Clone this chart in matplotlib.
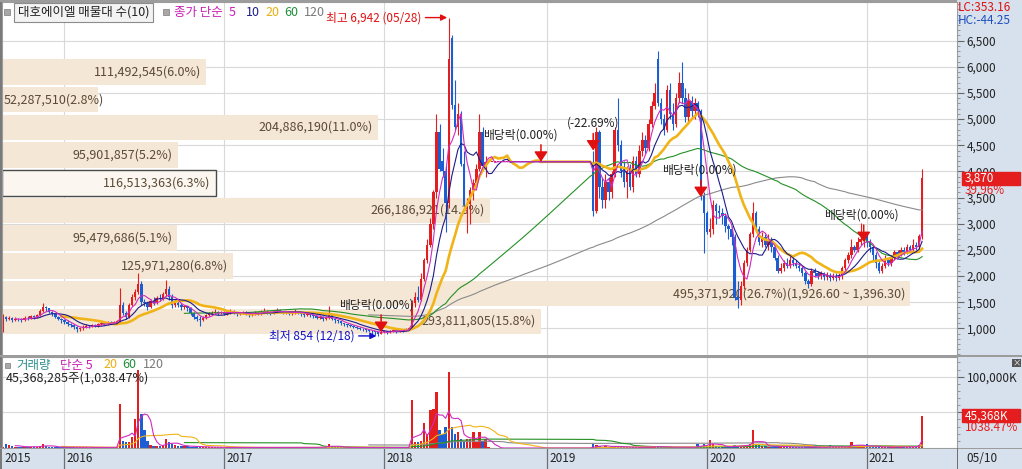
import numpy as np
import pandas as pd
import matplotlib
matplotlib.use('Agg')
import matplotlib.pyplot as plt
from matplotlib.patches import Rectangle
from matplotlib.ticker import MultipleLocator, FuncFormatter
from matplotlib.transforms import blended_transform_factory

plt.rcParams['font.family'] = ['Noto Sans CJK KR', 'DejaVu Sans']

# 대호에이엘 주봉 (마지막 주 2021-05-10)
last_date = '2021-05-10'

opens = [
    980, 1210, 1180, 1200, 1150, 1180, 1170, 1160, 1200, 1190,
    1230, 1210, 1250, 1330, 1400, 1380, 1320, 1270, 1220, 1180,
    1150, 1120, 1080, 1060, 1020, 980, 1000, 1030, 1050, 1040,
    1060, 1050, 1080, 1100, 1090, 1110, 1100, 1120, 1120, 1450,
    1300, 1220, 1450, 1600, 1700, 1850, 1500, 1480, 1400, 1520,
    1480, 1580, 1560, 1660, 1760, 1600, 1450, 1480, 1450, 1400,
    1420, 1380, 1300, 1220, 1180, 1150, 1200, 1250, 1280, 1300,
    1320, 1290, 1310, 1280, 1300, 1330, 1300, 1270, 1290, 1310,
    1280, 1250, 1270, 1300, 1280, 1320, 1340, 1310, 1290, 1320,
    1350, 1330, 1300, 1310, 1280, 1300, 1330, 1310, 1280, 1250,
    1270, 1250, 1230, 1200, 1220, 1180, 1200, 1250, 1180, 1150,
    1130, 1100, 1080, 1060, 1050, 1030, 1010, 990, 980, 960,
    950, 940, 920, 900, 930, 940, 920, 950, 960, 940,
    970, 950, 980, 1000, 1480, 1600, 1550, 1950, 2300, 2600,
    3000, 3600, 4750, 4200, 4000, 3400, 6550, 5270, 4850, 5100,
    4150, 3300, 3380, 3650, 3780, 4050, 4750, 4100, 4185, 4185,
    4185, 4185, 4185, 4185, 4185, 4185, 4185, 4185, 4185, 4185,
    4185, 4185, 4185, 4185, 4185, 4185, 4185, 4185, 4185, 4185,
    4185, 4185, 4185, 4185, 4185, 4185, 4185, 4185, 4185, 4185,
    4185, 4185, 4185, 3250, 4750, 3700, 3450, 3800, 3600, 3950,
    4800, 4500, 4000, 3800, 4000, 3700, 4200, 3950, 4400, 4600,
    4450, 4900, 5250, 6150, 5300, 5000, 4800, 5550, 5100, 4900,
    5400, 5700, 5400, 5050, 5350, 5150, 5300, 5150, 3550, 3200,
    2850, 2900, 3350, 3250, 3200, 3150, 2950, 2900, 2750, 1600,
    1550, 1800, 2250, 2500, 2800, 3200, 2900, 2650, 2750, 2600,
    2700, 2550, 2350, 2100, 2150, 2250, 2200, 2300, 2250, 2200,
    2150, 2050, 1900, 1850, 2100, 2050, 2000, 2050, 1980, 2000,
    1960, 2000, 1960, 2000, 2150, 2300, 2400, 2550, 2500, 2650,
    2700, 2750, 2650, 2550, 2400, 2250, 2100, 2200, 2300, 2250,
    2350, 2450, 2400, 2500, 2450, 2550, 2500, 2600, 2550, 2765,
]
highs = [
    1280, 1240, 1230, 1220, 1210, 1200, 1190, 1230, 1230, 1260,
    1260, 1280, 1360, 1480, 1420, 1390, 1330, 1280, 1240, 1200,
    1170, 1150, 1100, 1080, 1040, 1030, 1060, 1080, 1070, 1080,
    1080, 1100, 1130, 1120, 1130, 1130, 1140, 1150, 1770, 1500,
    1330, 1480, 1650, 1750, 2050, 1900, 1560, 1500, 1560, 1600,
    1620, 1650, 1700, 1920, 1800, 1650, 1550, 1520, 1480, 1450,
    1430, 1400, 1320, 1250, 1230, 1230, 1280, 1310, 1330, 1360,
    1340, 1340, 1330, 1330, 1360, 1350, 1310, 1320, 1340, 1330,
    1300, 1300, 1330, 1320, 1350, 1380, 1350, 1330, 1350, 1380,
    1370, 1340, 1340, 1320, 1320, 1360, 1340, 1320, 1290, 1300,
    1290, 1270, 1240, 1250, 1230, 1230, 1430, 1260, 1200, 1170,
    1140, 1110, 1090, 1080, 1060, 1050, 1030, 1010, 990, 980,
    970, 950, 930, 960, 960, 950, 970, 990, 970, 990,
    980, 1000, 1020, 1550, 1700, 1800, 2050, 2350, 2700, 3100,
    3650, 5100, 4900, 4450, 4100, 6942, 6600, 5750, 5300, 5150,
    4400, 3500, 3700, 3850, 4150, 5100, 4850, 4300, 4185, 4185,
    4185, 4185, 4185, 4185, 4185, 4185, 4185, 4185, 4185, 4185,
    4185, 4185, 4185, 4185, 4185, 4185, 4185, 4185, 4185, 4185,
    4185, 4185, 4185, 4185, 4185, 4185, 4185, 4185, 4185, 4185,
    4185, 4185, 4400, 4850, 4800, 3900, 3950, 3900, 4000, 4850,
    5400, 4600, 4200, 4100, 4150, 4300, 4300, 4500, 4750, 4700,
    5000, 5350, 5700, 6300, 5400, 5100, 5650, 5700, 5300, 5500,
    5900, 6100, 5600, 5500, 5450, 5400, 5350, 5200, 3600, 3250,
    3100, 3450, 3400, 3350, 3300, 3200, 3000, 2950, 2800, 1900,
    1900, 2300, 2550, 2850, 3410, 3250, 2950, 2850, 2800, 2800,
    2750, 2600, 2400, 2250, 2300, 2350, 2380, 2400, 2300, 2250,
    2200, 2100, 1950, 2150, 2150, 2100, 2100, 2080, 2080, 2050,
    2050, 2050, 2050, 2200, 2350, 2450, 2700, 2600, 2750, 3010,
    2850, 2800, 2700, 2600, 2450, 2300, 2250, 2400, 2350, 2400,
    2500, 2500, 2550, 2550, 2620, 2600, 2700, 2650, 2800, 4050,
]
lows = [
    920, 1130, 1150, 1120, 1130, 1130, 1120, 1140, 1150, 1170,
    1180, 1190, 1240, 1320, 1330, 1290, 1240, 1190, 1150, 1100,
    1080, 1040, 1020, 980, 920, 950, 970, 1010, 1010, 1020,
    1020, 1030, 1060, 1060, 1070, 1080, 1080, 1100, 1100, 1250,
    1180, 1200, 1430, 1550, 1650, 1450, 1420, 1350, 1380, 1450,
    1460, 1520, 1540, 1620, 1550, 1380, 1400, 1400, 1350, 1370,
    1330, 1260, 1180, 1140, 1050, 1130, 1180, 1230, 1250, 1280,
    1260, 1270, 1250, 1260, 1280, 1270, 1240, 1250, 1270, 1250,
    1210, 1230, 1250, 1250, 1260, 1300, 1280, 1260, 1270, 1300,
    1290, 1270, 1270, 1250, 1260, 1280, 1280, 1240, 1210, 1230,
    1210, 1190, 1170, 1180, 1140, 1150, 1180, 1150, 1110, 1100,
    1070, 1050, 1030, 1020, 1000, 980, 960, 950, 930, 920,
    900, 880, 854, 890, 910, 900, 910, 930, 910, 930,
    920, 940, 960, 980, 1400, 1500, 1530, 1900, 2250, 2550,
    2900, 3500, 4000, 3900, 2850, 3300, 5200, 4800, 4700, 4100,
    3300, 2820, 3000, 3450, 3700, 4000, 4050, 3900, 4185, 4185,
    4185, 4185, 4185, 4185, 4185, 4185, 4185, 4185, 4185, 4185,
    4185, 4185, 4185, 4185, 4185, 4185, 4185, 4185, 4185, 4185,
    4185, 4185, 4185, 4185, 4185, 4185, 4185, 4185, 4185, 4185,
    4185, 4185, 3150, 3200, 3500, 3300, 3300, 3450, 3500, 3900,
    4400, 3900, 3700, 3500, 3650, 3600, 3900, 3900, 4300, 4350,
    4400, 4850, 5200, 5250, 4900, 4700, 4750, 5000, 4800, 4850,
    5300, 5300, 4950, 4900, 5050, 5000, 5050, 3450, 2440, 2800,
    2750, 2800, 3000, 3100, 3000, 2850, 2700, 2600, 1550, 1380,
    1450, 1750, 2200, 2450, 2750, 2850, 2600, 2550, 2550, 2500,
    2450, 2300, 2050, 2050, 2100, 2150, 2150, 2200, 2150, 2100,
    2000, 1850, 1780, 1800, 1980, 1950, 1950, 1930, 1920, 1900,
    1920, 1900, 1920, 1950, 2120, 2250, 2350, 2450, 2450, 2600,
    2550, 2550, 2450, 2300, 2150, 2050, 2050, 2150, 2200, 2200,
    2300, 2350, 2380, 2400, 2420, 2450, 2450, 2500, 2500, 2700,
]
closes = [
    1210, 1180, 1200, 1150, 1180, 1170, 1160, 1200, 1190, 1230,
    1210, 1250, 1330, 1400, 1380, 1320, 1270, 1220, 1180, 1150,
    1120, 1080, 1060, 1020, 980, 1000, 1030, 1050, 1040, 1060,
    1050, 1080, 1100, 1090, 1110, 1100, 1120, 1120, 1450, 1300,
    1220, 1450, 1600, 1700, 1850, 1500, 1480, 1400, 1520, 1480,
    1580, 1560, 1660, 1760, 1600, 1450, 1480, 1450, 1400, 1420,
    1380, 1300, 1220, 1180, 1150, 1200, 1250, 1280, 1300, 1320,
    1290, 1310, 1280, 1300, 1330, 1300, 1270, 1290, 1310, 1280,
    1250, 1270, 1300, 1280, 1320, 1340, 1310, 1290, 1320, 1350,
    1330, 1300, 1310, 1280, 1300, 1330, 1310, 1280, 1250, 1270,
    1250, 1230, 1200, 1220, 1180, 1200, 1250, 1180, 1150, 1130,
    1100, 1080, 1060, 1050, 1030, 1010, 990, 980, 960, 950,
    940, 920, 900, 930, 940, 920, 950, 960, 940, 970,
    950, 980, 1000, 1480, 1600, 1550, 1950, 2300, 2600, 3000,
    3600, 4750, 4050, 4000, 3400, 6150, 5270, 4850, 5100, 4150,
    3350, 3380, 3650, 3780, 4050, 4750, 4100, 4185, 4185, 4185,
    4185, 4185, 4185, 4185, 4185, 4185, 4185, 4185, 4185, 4185,
    4185, 4185, 4185, 4185, 4185, 4185, 4185, 4185, 4185, 4185,
    4185, 4185, 4185, 4185, 4185, 4185, 4185, 4185, 4185, 4185,
    4185, 4185, 3250, 4750, 3700, 3450, 3800, 3600, 3950, 4800,
    4500, 4000, 3800, 4000, 3700, 4200, 3950, 4400, 4600, 4450,
    4900, 5250, 5500, 5300, 5000, 4800, 5550, 5100, 4900, 5400,
    5700, 5400, 5050, 5350, 5150, 5300, 5150, 3550, 3200, 2850,
    2900, 3350, 3250, 3200, 3150, 2950, 2900, 2750, 1600, 1550,
    1800, 2250, 2500, 2800, 3200, 2900, 2650, 2750, 2600, 2700,
    2550, 2350, 2100, 2150, 2250, 2200, 2300, 2250, 2200, 2150,
    2050, 1900, 1850, 2100, 2050, 2000, 2050, 1980, 2000, 1960,
    2000, 1960, 2000, 2150, 2300, 2400, 2550, 2500, 2650, 2700,
    2750, 2650, 2550, 2400, 2250, 2100, 2200, 2300, 2250, 2350,
    2450, 2400, 2500, 2450, 2550, 2500, 2600, 2550, 2765, 3870,
]
# 거래량 (백만주)
volumes = [
    2.0, 5.0, 4.5, 2.5, 2.0, 1.5, 1.8, 2.0, 1.5, 1.8,
    1.5, 2.0, 3.0, 5.0, 3.0, 2.0, 1.5, 1.2, 1.0, 1.0,
    1.0, 1.2, 1.0, 0.8, 1.5, 1.0, 0.8, 0.8, 0.7, 0.8,
    0.8, 0.7, 0.8, 0.9, 0.8, 0.7, 1.0, 1.2, 62.0, 10.0,
    8.0, 8.0, 16.0, 41.0, 109.0, 47.0, 25.0, 10.0, 4.0, 3.0,
    3.0, 3.0, 4.0, 12.0, 9.0, 5.0, 4.0, 3.0, 3.0, 2.5,
    2.5, 2.0, 2.0, 1.8, 2.0, 1.5, 1.2, 1.0, 1.0, 1.0,
    0.8, 0.8, 0.7, 0.8, 0.9, 0.8, 0.7, 0.7, 0.8, 0.7,
    0.6, 0.7, 0.8, 0.7, 0.9, 1.0, 0.8, 0.7, 0.8, 1.0,
    0.9, 0.7, 0.8, 0.7, 0.8, 1.0, 0.8, 0.7, 0.8, 0.9,
    0.8, 0.8, 1.0, 1.2, 1.5, 1.8, 5.0, 2.5, 1.5, 1.2,
    1.0, 1.0, 0.8, 0.8, 0.7, 0.7, 0.6, 0.6, 0.6, 0.5,
    0.6, 0.6, 0.8, 0.7, 0.6, 0.6, 0.7, 0.7, 0.6, 0.7,
    0.7, 0.8, 1.0, 67.0, 9.0, 9.0, 10.0, 35.0, 20.0, 53.0,
    55.0, 78.0, 25.0, 20.0, 30.0, 106.0, 30.0, 20.0, 23.0, 13.0,
    10.0, 13.0, 12.0, 22.0, 9.0, 22.0, 10.0, 13.0, 2.0, 0,
    0, 0, 0, 0, 0, 0, 0, 0, 0, 0,
    0, 0, 0, 0, 0, 0, 0, 0, 0, 0,
    0, 0, 0, 0, 0, 0, 0, 0, 0, 0,
    0, 0, 5.0, 4.0, 3.0, 2.0, 2.5, 2.0, 1.5, 3.0,
    2.0, 1.5, 1.2, 1.0, 1.0, 1.2, 1.0, 1.5, 1.2, 1.0,
    1.5, 1.8, 2.0, 2.5, 1.5, 1.2, 1.5, 1.2, 1.0, 1.2,
    1.5, 1.2, 1.0, 1.0, 0.8, 1.0, 6.0, 3.0, 5.0, 2.5,
    11.0, 6.0, 3.0, 2.0, 2.0, 1.5, 1.5, 2.0, 4.0, 3.0,
    3.0, 3.5, 4.0, 6.0, 25.0, 6.0, 4.0, 3.0, 3.0, 2.0,
    2.0, 2.5, 2.5, 2.0, 1.5, 1.5, 1.2, 1.2, 1.0, 1.0,
    1.5, 2.0, 1.5, 1.5, 1.0, 1.0, 0.8, 0.8, 0.8, 4.0,
    1.0, 0.8, 1.0, 1.5, 2.0, 2.5, 9.0, 3.0, 2.5, 3.0,
    2.0, 5.0, 2.0, 2.0, 1.5, 1.5, 1.2, 1.5, 1.2, 1.5,
    1.5, 1.2, 1.5, 1.5, 1.5, 2.0, 2.0, 2.0, 4.36875, 45.368285,
]

# 매물대 (아래 구간부터)
profile_low = 866.0
profile_step = 530.3
profile_vols = [293811805, 495371920, 125971280, 95479686, 266186921,
                116513363, 95901857, 204886190, 52287510, 111492545]
profile_pcts = [15.8, 26.7, 6.8, 5.1, 14.3, 6.3, 5.2, 11.0, 2.8, 6.0]

# 배당락 표시
ex_idx = [123, 175, 192, 227, 280]
ex_price = [930, 4185, 4400, 3510, 2650]
ex_text = ['배당락(0.00%)', '배당락(0.00%)', '(-22.69%)', '배당락(0.00%)', '배당락(0.00%)']

assert len(opens) == len(highs) == len(lows) == len(closes) == len(volumes)

W, H = 1022, 469
BG = '#d7e1ed'
UP, DOWN = '#e41e1e', '#1b5ed3'
GRID = '#d9d9d9'
FRAME = '#9c9c9c'


def fx(px):
    return px / W


def fy(py):
    return 1 - py / H


n = len(closes)
dates = pd.date_range(end=last_date, periods=n, freq='W-MON')
idx = np.arange(n)
o, h, l, c = map(np.array, (opens, highs, lows, closes))
v = np.array(volumes)
col = np.where(c >= o, UP, DOWN)

XL = (-0.33, 310.35)
YL = (470, 7240)
VL = (0, 127.6)
year_pos = [int(dates.searchsorted(pd.Timestamp(f'{y}-01-01'))) for y in range(2016, 2022)]

fig = plt.figure(figsize=(W / 100, H / 100), dpi=100, facecolor=BG)
renderer = fig.canvas.get_renderer()
rect = [fx(2), fy(356), 955 / W, 354 / H]

# 격자
axg = fig.add_axes(rect, facecolor='white')
axg.set_xlim(XL)
axg.set_ylim(YL)
for p in range(1000, 7000, 500):
    axg.axhline(p, color=GRID, lw=0.8)
for p in year_pos:
    axg.axvline(p, color=GRID, lw=0.8)
axg.set_xticks([])
axg.set_yticks([])
for s in axg.spines.values():
    s.set_visible(False)

# 매물대
axp = fig.add_axes(rect, facecolor='none')
axp.set_ylim(YL)
axp.set_xlim(0, max(profile_vols) * 955 / 908)
centers = profile_low + profile_step * (np.arange(len(profile_vols)) + 0.5)
cur_bin = int((c[-1] - profile_low) // profile_step)
for k, (pv, pp) in enumerate(zip(profile_vols, profile_pcts)):
    hl = k == cur_bin
    axp.barh(centers[k], pv, height=profile_step * 0.92, left=0,
             color='#fbf6ef' if hl else '#f5e7d6',
             edgecolor='#4a4a4a' if hl else 'none', lw=1)
    label = f'{pv:,}({pp:.1f}%)'
    if pv == max(profile_vols):
        lo = profile_low + profile_step * k
        label += f'({lo + profile_step:,.2f} ~ {lo:,.2f})'
    ann = axp.annotate(label, (pv, centers[k]), xytext=(-5, 0), textcoords='offset pixels',
                       ha='right', va='center', fontsize=9, color='#5b4a36')
    # 막대보다 글자가 길면 왼쪽에 붙임
    if ann.get_window_extent(renderer).x0 < 4:
        ann.xy = (0, centers[k])
        ann.xyann = (2, 0)
        ann.set_ha('left')
axp.axis('off')

# 캔들 + 이동평균
ax = fig.add_axes(rect, facecolor='none')
ax.set_xlim(XL)
ax.set_ylim(YL)
ax.vlines(idx, l, h, colors=col, lw=0.8)
ax.bar(idx, np.maximum(np.abs(c - o), 12), bottom=np.minimum(o, c), width=0.8, color=col, lw=0)
cs = pd.Series(c)
for w, cl, lw in [(120, '#8a8a8a', 0.8), (60, '#259025', 0.8), (20, '#f0b418', 1.9),
                  (10, '#1c1c8c', 0.8), (5, '#d02cc0', 0.8)]:
    ax.plot(idx, cs.rolling(w).mean(), color=cl, lw=lw)

ax.yaxis.tick_right()
ax.set_yticks(range(1000, 7000, 500))
ax.yaxis.set_major_formatter(FuncFormatter(lambda x, p: f'{int(x):,}'))
ax.yaxis.set_minor_locator(MultipleLocator(100))
ax.tick_params(axis='y', which='major', length=5, width=0.8, color='#666666',
               labelsize=8.5, labelcolor='#222222', pad=2)
ax.tick_params(axis='y', which='minor', length=2.5, width=0.6, color='#888888')
ax.tick_params(axis='x', bottom=False, labelbottom=False)
for s in ax.spines.values():
    s.set_color(FRAME)

imax = int(np.argmax(h))
imin = int(np.argmin(l))
ax.annotate(f'최고 {h[imax]:,.0f} ({dates[imax]:%m/%d})', xy=(imax - 0.5, h[imax]),
            xytext=(-26, 0), textcoords='offset pixels', ha='right', va='center',
            fontsize=8.5, color='#e01010',
            arrowprops=dict(arrowstyle='-|>', color='#e01010', lw=1, mutation_scale=9,
                            shrinkA=1, shrinkB=0))
ax.annotate(f'최저 {l[imin]:,.0f} ({dates[imin]:%m/%d})', xy=(imin - 0.5, l[imin]),
            xytext=(-22, 0), textcoords='offset pixels', ha='right', va='center',
            fontsize=8.5, color='#1212c8',
            arrowprops=dict(arrowstyle='-|>', color='#1212c8', lw=1, mutation_scale=9,
                            shrinkA=1, shrinkB=0))

for i, p, t, dx in zip(ex_idx, ex_price, ex_text, [-5, -21, 0, -1, -2]):
    ax.annotate('', xy=(i, p), xytext=(0, 17), textcoords='offset pixels',
                arrowprops=dict(arrowstyle='-|>,head_length=0.6,head_width=0.4',
                                color='#e01010', lw=1.1, mutation_scale=10,
                                shrinkA=0, shrinkB=0))
    ax.annotate(t, xy=(i, p), xytext=(dx, 27), textcoords='offset pixels',
                ha='center', va='center', fontsize=8.5, color='#222222')

# 현재가 표시
trp = blended_transform_factory(fig.transFigure, ax.transData)
half = 6.5 * (YL[1] - YL[0]) / 354
ax.add_patch(Rectangle((fx(962), c[-1] - half), fx(1020) - fx(962), 2 * half,
                       transform=trp, color=UP, clip_on=False, zorder=5))
ax.text(fx(965), c[-1], f'{c[-1]:,.0f}', transform=trp, color='white', va='center',
        ha='left', fontsize=8.5, zorder=6, clip_on=False)
ax.annotate(f'{(c[-1] / c[-2] - 1) * 100:.2f}%', xy=(fx(965), c[-1]), xycoords=trp,
            xytext=(0, -12), textcoords='offset pixels', color=UP, va='center',
            ha='left', fontsize=8.5, zorder=6)

lc = (c[-1] - l.min()) / l.min() * 100
hc = (c[-1] - h.max()) / h.max() * 100
fig.text(fx(958), fy(7.5), f'LC:{lc:.2f}', color='#e01010', fontsize=8.5, va='center')
fig.text(fx(958), fy(20), f'HC:{hc:.2f}', color='#1f4fbf', fontsize=8.5, va='center')

# 거래량
axv = fig.add_axes([fx(2), fy(448), 955 / W, 91 / H], facecolor='white')
axv.set_xlim(XL)
axv.set_ylim(VL)
for p in (50, 100):
    axv.axhline(p, color=GRID, lw=0.8, zorder=0)
for p in year_pos:
    axv.axvline(p, color=GRID, lw=0.8, zorder=0)
axv.bar(idx, v, width=0.8, color=col, lw=0)
vs = pd.Series(v)
for w, cl in [(120, '#8a8a8a'), (60, '#259025'), (20, '#f0b418'), (5, '#d02cc0')]:
    axv.plot(idx, vs.rolling(w).mean(), color=cl, lw=0.8)
axv.yaxis.tick_right()
axv.set_yticks([50, 100])
axv.yaxis.set_major_formatter(FuncFormatter(lambda x, p: f'{int(x * 1000):,}K'))
axv.yaxis.set_minor_locator(MultipleLocator(10))
axv.tick_params(axis='y', which='major', length=5, width=0.8, color='#666666',
                labelsize=8.5, labelcolor='#222222', pad=2)
axv.tick_params(axis='y', which='minor', length=2.5, width=0.6, color='#888888')
axv.tick_params(axis='x', bottom=False, labelbottom=False)
for s in axv.spines.values():
    s.set_color(FRAME)

trv = blended_transform_factory(fig.transFigure, axv.transData)
vhalf = 6.5 * (VL[1] - VL[0]) / 91
axv.add_patch(Rectangle((fx(962), v[-1] - vhalf), fx(1020) - fx(962), 2 * vhalf,
                        transform=trv, color=UP, clip_on=False, zorder=5))
axv.text(fx(965), v[-1], f'{v[-1] * 1000:,.0f}K', transform=trv, color='white',
         va='center', ha='left', fontsize=8.5, zorder=6, clip_on=False)
vpct = v[-1] / v[-2] * 100
axv.annotate(f'{vpct:.2f}%', xy=(fx(965), v[-1]), xycoords=trv, xytext=(0, -12),
             textcoords='offset pixels', color=UP, va='center', ha='left',
             fontsize=8.5, zorder=6)

# 날짜 축
axd = fig.add_axes([fx(2), 0, 955 / W, 21 / H], facecolor=BG)
axd.set_xlim(XL)
axd.set_ylim(0, 1)
axd.set_xticks([])
axd.set_yticks([])
for s in axd.spines.values():
    s.set_visible(False)
axd.text(XL[0] + 0.7, 0.5, str(dates[0].year), va='center', ha='left', fontsize=8.5, color='#222222')
for y, p in zip(range(2016, 2022), year_pos):
    axd.axvline(p, color='#707070', lw=0.9)
    axd.text(p + 0.7, 0.5, str(y), va='center', ha='left', fontsize=8.5, color='#222222')
fig.text(fx(966), fy(458.5), f'{dates[-1]:%m/%d}', fontsize=8.5, color='#222222', va='center')

# 테두리
for r in [(0, 0, 2, 469, '#7a7a7a'), (0, 0, 957, 2, FRAME), (0, 355.5, 1022, 2, FRAME),
          (0, 447.5, 1022, 1.5, FRAME), (956.5, 447.5, 1.2, 21.5, '#707070')]:
    fig.add_artist(Rectangle((fx(r[0]), fy(r[1] + r[3])), r[2] / W, r[3] / H,
                             transform=fig.transFigure, color=r[4], lw=0))
fig.add_artist(Rectangle((fx(1012), fy(367)), 9 / W, 8 / H, transform=fig.transFigure,
                         color='#555555', lw=0))
fig.text(fx(1016.5), fy(363), '×', color='white', fontsize=6, ha='center', va='center')

# 범례
fig.add_artist(Rectangle((fx(4), fy(15.5)), 6 / W, 6 / H, transform=fig.transFigure,
                         facecolor='#a8a8a8', edgecolor='#7a7a7a', lw=0.5))
fig.add_artist(Rectangle((fx(14), fy(22)), 139 / W, 19 / H, transform=fig.transFigure,
                         facecolor='#f3f3f3', edgecolor='#8c8c8c', lw=0.8))
fig.text(fx(18), fy(12.5), '대호에이엘 매물대 수(10)', fontsize=9, color='#222222', va='center')
fig.add_artist(Rectangle((fx(163), fy(15.5)), 6 / W, 6 / H, transform=fig.transFigure,
                         facecolor='#a8a8a8', edgecolor='#7a7a7a', lw=0.5))
for px, t, cl in [(174, '종가 단순', '#c81eb4'), (229, '5', '#c81eb4'), (246, '10', '#1c1c8c'),
                  (265, '20', '#e8b010'), (284, '60', '#1f8f3a'), (304, '120', '#7a7a7a')]:
    fig.text(fx(px), fy(12.5), t, fontsize=9, color=cl, va='center')

fig.add_artist(Rectangle((fx(5), fy(368)), 5 / W, 5 / H, transform=fig.transFigure,
                         facecolor='#a8a8a8', edgecolor='#7a7a7a', lw=0.5))
for px, t, cl in [(16, '거래량', '#2f8f8f'), (60, '단순 5', '#c81eb4'), (103, '20', '#e8b010'),
                  (122, '60', '#1f8f3a'), (143, '120', '#7a7a7a')]:
    fig.text(fx(px), fy(365), t, fontsize=9, color=cl, va='center')
fig.text(fx(6), fy(378.5), f'{round(v[-1] * 1e6):,}주({vpct:,.2f}%)', fontsize=9,
         color='#222222', va='center')

fig.savefig('out.png', dpi=100, facecolor=BG)
